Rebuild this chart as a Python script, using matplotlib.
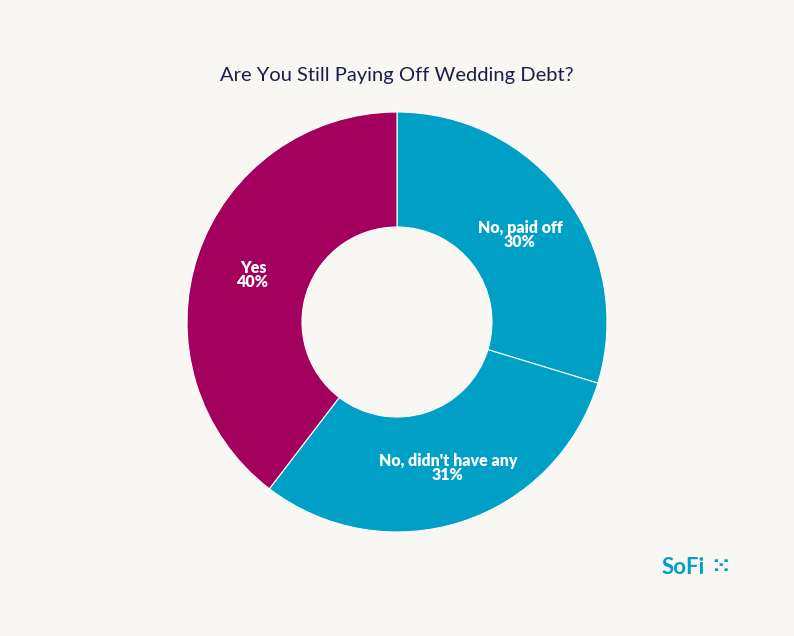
import matplotlib
matplotlib.use("Agg")
import matplotlib.pyplot as plt

labels = ["No, paid off", "No, didn't have any", "Yes"]
values = [30, 31, 40]
colors = ["#00A0C6", "#00A0C6", "#A3005E"]

bg = "#F8F7F4"
fig = plt.figure(figsize=(7.94, 6.36), dpi=100, facecolor=bg)
fig.text(0.5, 1 - 76/636, "Are You Still Paying Off Wedding Debt?", ha="center", va="center",
         fontsize=14.5, color="#1B1F4B", family="Lato")
ax = fig.add_axes([(397-210)/794, (636-322-210)/636, 420/794, 420/636])
ax.set_facecolor(bg)
ax.pie(values, colors=colors, startangle=90, counterclock=False,
       wedgeprops=dict(width=115/210, edgecolor="white", linewidth=0.8), radius=1)
ax.set_xlim(-1, 1); ax.set_ylim(-1, 1); ax.set_aspect("equal"); ax.axis("off")

pos = [(520, 235), (448, 468), (253, 275)]
for (px, py), lab, v in zip(pos, labels, values):
    ax.text((px-397)/210, (322-py)/210, f"{lab}\n{v}%", ha="center", va="center",
            color="white", fontsize=11.5, fontweight="heavy", family="Lato", linespacing=0.85)

fig.text(705/794, 1 - 567/636, "SoFi", ha="right", va="center", fontsize=16,
         fontweight="bold", color="#00A0C6", family="Lato")
fig.text(720/794, 1 - 567/636, "⁙", ha="center", va="center", fontsize=16,
         fontweight="bold", color="#00A0C6", family="DejaVu Sans")
fig.savefig("out.png", dpi=100, facecolor=bg)
